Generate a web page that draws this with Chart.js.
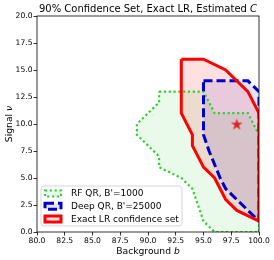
<!DOCTYPE html>
<html>
<head>
<meta charset="utf-8">
<script src="https://cdn.jsdelivr.net/npm/chart.js@4.4.0/dist/chart.umd.min.js"></script>
<style>
  html, body { margin: 0; padding: 0; background: #fff; }
</style>
</head>
<body>
<canvas id="setChart" width="274" height="260"></canvas>
<script>
// polygon outlines of the three confidence sets (background b, signal nu)
const rfB = [91, 95, 96, 99, 100, 100, 96, 95, 94, 93, 91, 91, 90, 89, 89, 90, 91, 91];
const rfNu = [13, 13, 11, 11, 9, 0, 0, 1, 4, 5, 6, 7, 8, 9, 10, 11, 12, 13];

const deepB = [95, 99, 100, 100, 99, 98, 97, 96.5, 95.5, 95, 95];
const deepNu = [14, 14, 13, 1, 2, 3, 4, 5, 7.5, 9, 14];

const exactB = [93, 95, 97, 99, 100, 100, 98, 97, 96.5, 96, 95, 94, 94, 93, 93];
const exactNu = [16, 16, 15, 13, 11, 1, 2, 3, 4, 5, 6, 8, 9, 11, 16];

const trueB = [98];
const trueNu = [10];

const labels = ["RF QR, B'=1000", "Deep QR, B'=25000", "Exact LR confidence set"];

const toPts = (xs, ys) => xs.map((x, i) => ({ x: x, y: ys[i] }));
const FONT = '"DejaVu Sans", sans-serif';

// filled 5 point star like matplotlib's '*' marker
function makeStar(r, color) {
  const c = document.createElement("canvas");
  const s = Math.ceil(r * 2 + 2);
  c.width = s; c.height = s;
  const g = c.getContext("2d");
  g.translate(s / 2, s / 2 + r * 0.1);
  g.beginPath();
  for (let i = 0; i < 10; i++) {
    const rad = i % 2 === 0 ? r : r * 0.382;
    const a = -Math.PI / 2 + i * Math.PI / 5;
    g.lineTo(rad * Math.cos(a), rad * Math.sin(a));
  }
  g.closePath();
  g.fillStyle = color;
  g.fill();
  return c;
}

// frame, titles and the in-axes legend
const decor = {
  id: "decor",
  afterDatasetsDraw(chart) {
    const { ctx, chartArea: a } = chart;
    ctx.save();
    ctx.strokeStyle = "#000";
    ctx.lineWidth = 0.8;
    ctx.strokeRect(a.left, a.top, a.right - a.left, a.bottom - a.top);
    ctx.restore();
  },
  afterDraw(chart) {
    const { ctx, chartArea: a } = chart;
    const mixed = (parts, cx, y) => {
      let w = 0;
      parts.forEach(p => { ctx.font = p[1]; w += ctx.measureText(p[0]).width; });
      let x = cx - w / 2;
      parts.forEach(p => { ctx.font = p[1]; ctx.fillText(p[0], x, y); x += ctx.measureText(p[0]).width; });
    };
    ctx.save();
    ctx.fillStyle = "#000";
    ctx.textBaseline = "alphabetic";
    const cx = (a.left + a.right) / 2;
    mixed([["90% Confidence Set, Exact LR, Estimated ", "10px " + FONT], ["C", "italic 10px " + FONT]], cx, 11.5);
    mixed([["Background ", "9.2px " + FONT], ["b", "italic 9.2px " + FONT]], cx, 253.5);
    ctx.translate(11.5, (a.top + a.bottom) / 2);
    ctx.rotate(-Math.PI / 2);
    mixed([["Signal ", "9.2px " + FONT], ["\u03bd", "italic 9.2px " + FONT]], 0, 0);
    ctx.restore();

    // legend box
    const bx = a.left + 4, bw = 141, bh = 40, by = a.bottom - 6 - bh;
    ctx.save();
    ctx.beginPath();
    ctx.roundRect(bx, by, bw, bh, 3);
    ctx.fillStyle = "rgba(255,255,255,0.8)";
    ctx.fill();
    ctx.strokeStyle = "#d6d6d6";
    ctx.lineWidth = 1;
    ctx.stroke();
    const order = [3, 2, 1];
    order.forEach((di, i) => {
      const ds = chart.data.datasets[di];
      const ry = by + 7.5 + i * 12.8;
      ctx.beginPath();
      ctx.rect(bx + 4, ry - 3, 16, 6);
      ctx.fillStyle = ds.backgroundColor;
      ctx.fill();
      ctx.setLineDash(ds.borderDash || []);
      ctx.lineWidth = ds.borderWidth;
      ctx.strokeStyle = ds.borderColor;
      ctx.stroke();
      ctx.setLineDash([]);
      ctx.fillStyle = "#000";
      ctx.font = "9px " + FONT;
      ctx.textBaseline = "middle";
      ctx.fillText(ds.label, bx + 30, ry + 0.5);
    });
    ctx.restore();
  }
};

const ctx = document.getElementById("setChart").getContext("2d");

const setChart = new Chart(ctx, {
  type: "scatter",
  data: {
    datasets: [
      {
        label: "true",
        data: toPts(trueB, trueNu),
        pointStyle: makeStar(6.2, "#d62728"),
        pointRadius: 6,
        order: 0,
        clip: 0
      },
      {
        label: labels[2],
        data: toPts(exactB, exactNu),
        showLine: true,
        fill: "shape",
        borderColor: "#ff0000",
        backgroundColor: "rgba(255, 0, 0, 0.12)",
        borderWidth: 3,
        pointRadius: 0,
        order: 1,
        clip: 0
      },
      {
        label: labels[1],
        data: toPts(deepB, deepNu),
        showLine: true,
        fill: "shape",
        borderColor: "#0000cd",
        backgroundColor: "rgba(0, 0, 205, 0.1)",
        borderWidth: 3,
        borderDash: [9, 4],
        pointRadius: 0,
        order: 2,
        clip: 0
      },
      {
        label: labels[0],
        data: toPts(rfB, rfNu),
        showLine: true,
        fill: "shape",
        borderColor: "#32cd32",
        backgroundColor: "rgba(50, 205, 50, 0.1)",
        borderWidth: 2.2,
        borderDash: [2.2, 2.6],
        pointRadius: 0,
        order: 3,
        clip: 0
      }
    ]
  },
  options: {
    responsive: false,
    animation: false,
    devicePixelRatio: 1,
    layout: { padding: { top: 16, right: 15, left: 0, bottom: 0 } },
    scales: {
      x: {
        type: "linear",
        min: 80,
        max: 100,
        afterFit: s => { s.height = 28; },
        border: { display: false },
        grid: { drawOnChartArea: false, color: "#000", lineWidth: 0.8, tickLength: 3.5 },
        ticks: {
          stepSize: 2.5,
          autoSkip: false,
          maxRotation: 0,
          padding: 0.5,
          color: "#000",
          font: { family: "DejaVu Sans", size: 7.6 },
          callback: v => v.toFixed(1)
        }
      },
      y: {
        type: "linear",
        min: 0,
        max: 20,
        afterFit: s => { s.width = 37; },
        border: { display: false },
        grid: { drawOnChartArea: false, color: "#000", lineWidth: 0.8, tickLength: 3.5 },
        ticks: {
          stepSize: 2.5,
          autoSkip: false,
          padding: 1,
          color: "#000",
          font: { family: "DejaVu Sans", size: 7.6 },
          callback: v => v.toFixed(1)
        }
      }
    },
    plugins: {
      legend: { display: false },
      tooltip: { enabled: false },
      filler: { drawTime: "beforeDatasetsDraw" }
    }
  },
  plugins: [decor]
});
</script>
</body>
</html>
